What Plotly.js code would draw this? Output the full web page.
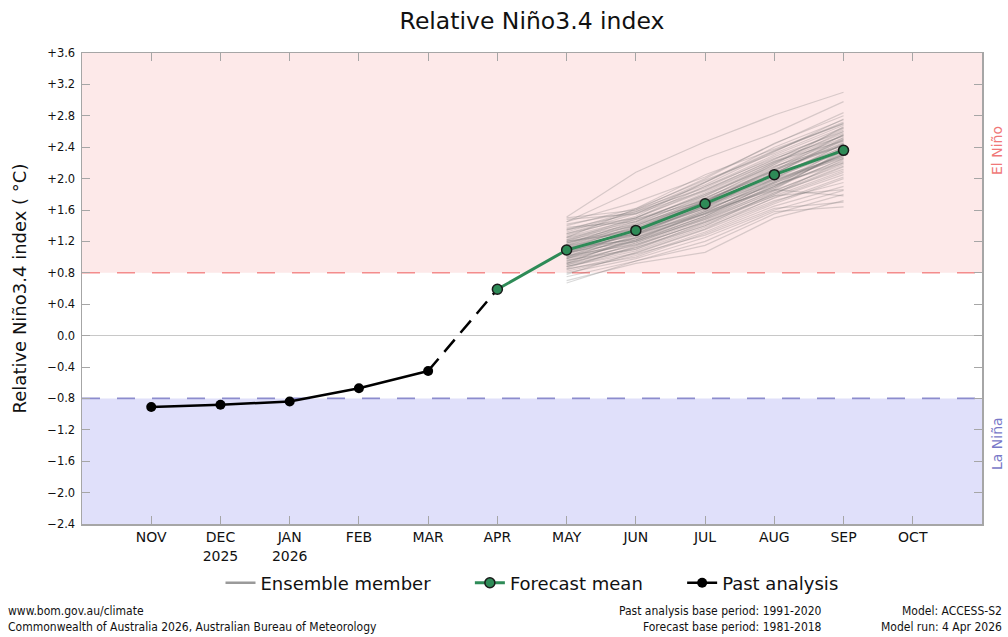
<!DOCTYPE html>
<html>
<head>
<meta charset="utf-8">
<script src="https://cdn.plot.ly/plotly-3.0.1.min.js"></script>
<style>
  html, body { margin: 0; padding: 0; background: #fff; }
  #chart { width: 1008px; height: 637px; }
</style>
</head>
<body>
<div id="chart"></div>
<script>
// ---- data ----
const months = ['NOV','DEC','JAN','FEB','MAR','APR','MAY','JUN','JUL','AUG','SEP','OCT'];
const tickLabels = ['NOV','DEC<br>2025','JAN<br>2026','FEB','MAR','APR','MAY','JUN','JUL','AUG','SEP','OCT'];

const pastMonths = ['NOV','DEC','JAN','FEB','MAR'];
const pastValues = [-0.91, -0.88, -0.84, -0.67, -0.45];

const bridgeMonths = ['MAR','APR'];
const bridgeValues = [-0.45, 0.59];

const forecastMonths = ['APR','MAY','JUN','JUL','AUG','SEP'];
const forecastMean = [0.59, 1.09, 1.34, 1.68, 2.05, 2.36];

const ensembleMonths = ['MAY','JUN','JUL','AUG','SEP'];
const ensembleMembers = [
  [1.51, 2.08, 2.47, 2.81, 3.10],
  [1.45, 1.85, 2.26, 2.58, 2.98],
  [1.50, 1.60, 2.00, 2.45, 2.80],
  [1.48, 1.55, 1.95, 2.40, 2.75],
  [1.40, 1.62, 2.05, 2.38, 2.70],
  [1.35, 1.50, 1.90, 2.30, 2.65],
  [1.30, 1.55, 1.85, 2.25, 2.62],
  [1.25, 1.45, 1.80, 2.20, 2.55],
  [1.22, 1.40, 1.75, 2.15, 2.50],
  [1.20, 1.48, 1.72, 2.10, 2.45],
  [1.18, 1.35, 1.70, 2.12, 2.42],
  [1.15, 1.38, 1.68, 2.05, 2.40],
  [1.12, 1.30, 1.65, 2.00, 2.38],
  [1.10, 1.33, 1.62, 2.08, 2.35],
  [1.08, 1.28, 1.60, 1.95, 2.32],
  [1.05, 1.25, 1.58, 1.98, 2.30],
  [1.03, 1.30, 1.55, 1.90, 2.25],
  [1.00, 1.20, 1.52, 1.92, 2.22],
  [0.98, 1.18, 1.50, 1.85, 2.18],
  [0.95, 1.15, 1.45, 1.80, 2.15],
  [0.92, 1.12, 1.42, 1.78, 2.10],
  [0.90, 1.10, 1.40, 1.75, 2.05],
  [0.88, 1.05, 1.35, 1.70, 2.02],
  [0.85, 1.00, 1.30, 1.65, 1.90],
  [0.80, 0.98, 1.25, 1.60, 1.85],
  [0.75, 0.95, 1.15, 1.55, 1.80],
  [0.70, 0.92, 1.06, 1.50, 1.72],
  [0.67, 0.95, 1.20, 1.58, 1.64],
  [1.28, 1.52, 1.95, 2.35, 2.72],
  [1.32, 1.58, 1.88, 2.28, 2.60],
  [1.15, 1.42, 1.78, 2.18, 2.52],
  [1.05, 1.35, 1.72, 2.12, 2.48],
  [0.98, 1.28, 1.65, 2.02, 2.44],
  [1.12, 1.22, 1.58, 2.00, 2.28],
  [1.20, 1.32, 1.62, 1.92, 2.20],
  [0.92, 1.25, 1.55, 1.88, 2.26],
  [1.38, 1.45, 1.82, 2.22, 2.58],
  [1.02, 1.16, 1.48, 1.82, 2.12],
  [0.88, 1.08, 1.38, 1.72, 1.95],
  [1.25, 1.62, 1.98, 2.32, 2.68],
  [1.45, 1.70, 2.02, 2.44, 2.84],
  [0.96, 1.20, 1.48, 1.86, 2.36],
  [1.10, 1.40, 1.70, 2.04, 2.40],
  [1.18, 1.44, 1.76, 2.10, 2.46],
  [0.82, 1.02, 1.32, 1.68, 2.00],
  [1.14, 1.36, 1.74, 2.06, 2.50],
  [1.06, 1.30, 1.66, 2.02, 2.34],
  [1.00, 1.26, 1.60, 1.96, 2.30],
  [1.24, 1.42, 1.70, 2.14, 2.56],
  [0.94, 1.22, 1.56, 1.94, 2.28],
  [1.16, 1.46, 1.80, 2.16, 2.42],
  [1.08, 1.34, 1.64, 1.98, 2.26],
  [1.30, 1.50, 1.86, 2.24, 2.64],
  [0.86, 1.14, 1.46, 1.84, 2.20],
  [1.02, 1.24, 1.54, 1.90, 2.32],
  [1.12, 1.38, 1.72, 2.08, 2.44],
  [0.78, 1.06, 1.36, 1.76, 2.08],
  [1.36, 1.56, 1.90, 2.26, 2.54],
  [1.20, 1.36, 1.66, 2.04, 2.38],
  [0.90, 1.18, 1.50, 1.90, 2.40],
  [1.04, 1.32, 1.68, 2.06, 2.52],
  [1.26, 1.48, 1.78, 2.20, 2.60],
  [0.96, 1.10, 1.44, 1.78, 1.86],
  [1.10, 1.28, 1.58, 1.86, 1.78],
  [0.84, 1.04, 1.28, 1.62, 1.70],
  [1.18, 1.40, 1.74, 2.18, 2.66],
  [1.06, 1.20, 1.52, 1.96, 2.36],
  [1.34, 1.60, 1.92, 2.34, 2.76],
  [0.92, 1.16, 1.44, 1.80, 2.24],
  [1.14, 1.30, 1.62, 2.00, 2.44],
  [1.00, 1.34, 1.70, 2.10, 2.56],
  [1.22, 1.50, 1.84, 2.22, 2.48],
  [0.88, 1.12, 1.40, 1.82, 2.16],
  [1.42, 1.58, 1.96, 2.36, 2.70],
  [1.08, 1.24, 1.56, 1.94, 2.30],
  [0.98, 1.22, 1.52, 1.88, 2.34]
];

const yTickVals = [-2.4,-2.0,-1.6,-1.2,-0.8,-0.4,0.0,0.4,0.8,1.2,1.6,2.0,2.4,2.8,3.2,3.6];
const yTickText = ['\u22122.4','\u22122.0','\u22121.6','\u22121.2','\u22120.8','\u22120.4','0.0','+0.4','+0.8','+1.2','+1.6','+2.0','+2.4','+2.8','+3.2','+3.6'];

const elNinoThreshold = 0.8;
const laNinaThreshold = -0.8;
const yMin = -2.4, yMax = 3.6;

const footLeft = 'www.bom.gov.au/climate<br>Commonwealth of Australia 2026, Australian Bureau of Meteorology';
const footMid = 'Past analysis base period: 1991-2020<br>Forecast base period: 1981-2018';
const footRight = 'Model: ACCESS-S2<br>Model run: 4 Apr 2026';

// ---- traces ----
const FONT = 'DejaVu Sans, Verdana, sans-serif';
const NB = '\u00a0';
const traces = [];
// legend entry for ensemble members (no drawn data)
traces.push({
  x: [null], y: [null], type: 'scatter', mode: 'lines',
  name: 'Ensemble member' + NB.repeat(6), legendgroup: 'ens', showlegend: true,
  line: { color: '#9a9a9a', width: 2.5 }, hoverinfo: 'skip'
});
ensembleMembers.forEach((vals) => {
  traces.push({
    x: ensembleMonths, y: vals, type: 'scatter', mode: 'lines',
    legendgroup: 'ens', showlegend: false,
    line: { color: 'rgba(110,110,110,0.26)', width: 1.2 },
    hoverinfo: 'skip'
  });
});
traces.push({
  x: bridgeMonths, y: bridgeValues, type: 'scatter', mode: 'lines',
  showlegend: false, line: { color: '#000', width: 2.5, dash: '16px,9px' }, hoverinfo: 'skip'
});
traces.push({
  x: forecastMonths, y: forecastMean, type: 'scatter', mode: 'lines+markers',
  name: 'Forecast mean' + NB.repeat(6),
  line: { color: 'rgb(46,139,87)', width: 3 },
  marker: { color: 'rgb(46,139,87)', size: 10, line: { color: '#1a1a1a', width: 1.5 } }
});
traces.push({
  x: pastMonths, y: pastValues, type: 'scatter', mode: 'lines+markers',
  name: 'Past analysis',
  line: { color: '#000', width: 2.5 },
  marker: { color: '#000', size: 10 }
});

// ---- layout ----
const px = v => (v - 82) / 900;
const py = v => (524 - v) / 471;
const footFont = { family: 'DejaVu Sans Condensed, Liberation Sans Narrow, DejaVu Sans', size: 12, color: '#111' };

const layout = {
  width: 1008, height: 637,
  margin: { l: 82, r: 26, t: 53, b: 113 },
  paper_bgcolor: '#fff', plot_bgcolor: '#fff',
  font: { family: FONT, color: '#111' },
  title: { text: 'Relative Niño3.4 index', font: { family: FONT, size: 23.5, color: '#111' },
           x: 0.5, xref: 'paper', xanchor: 'center', y: 1 - 21/637, yref: 'container', yanchor: 'middle' },
  xaxis: {
    type: 'category', categoryorder: 'array', categoryarray: months,
    range: [-1, 12], tickvals: months, ticktext: tickLabels,
    showgrid: false, zeroline: false, showline: true, mirror: 'ticks',
    linecolor: '#a6a6a6', linewidth: 1.5, ticks: 'inside', ticklen: 8, tickcolor: '#a6a6a6', tickwidth: 1,
    tickfont: { family: FONT, size: 14, color: '#111' }, fixedrange: true
  },
  yaxis: {
    range: [yMin, yMax], tickvals: yTickVals, ticktext: yTickText,
    showgrid: false, zeroline: true, zerolinecolor: '#c8c8c8', zerolinewidth: 1.2,
    showline: true, mirror: 'ticks', linecolor: '#a6a6a6', linewidth: 1.5,
    ticks: 'inside', ticklen: 8, tickcolor: '#a6a6a6', tickwidth: 1,
    ticklabelstandoff: 3,
    tickfont: { family: FONT, size: 11.5, color: '#111' },
    title: { text: 'Relative Niño3.4 index ( \u00b0C)', font: { family: FONT, size: 18, color: '#111' }, standoff: 16 },
    fixedrange: true
  },
  shapes: [
    { type: 'rect', xref: 'paper', yref: 'y', x0: 0, x1: 1, y0: elNinoThreshold, y1: yMax,
      fillcolor: 'rgb(253,233,233)', line: { width: 0 }, layer: 'below' },
    { type: 'rect', xref: 'paper', yref: 'y', x0: 0, x1: 1, y0: yMin, y1: laNinaThreshold,
      fillcolor: 'rgb(224,224,250)', line: { width: 0 }, layer: 'below' },
    { type: 'line', xref: 'paper', yref: 'y', x0: 0, x1: 1, y0: elNinoThreshold, y1: elNinoThreshold,
      line: { color: 'rgb(244,140,140)', width: 1.6, dash: '18px,17px' }, layer: 'below' },
    { type: 'line', xref: 'paper', yref: 'y', x0: 0, x1: 1, y0: laNinaThreshold, y1: laNinaThreshold,
      line: { color: 'rgb(140,140,205)', width: 1.6, dash: '18px,17px' }, layer: 'below' }
  ],
  legend: {
    orientation: 'h', x: 0.5, xanchor: 'center', y: py(583), yanchor: 'middle',
    font: { family: FONT, size: 18, color: '#111' }, bgcolor: 'rgba(0,0,0,0)',
    traceorder: 'normal', itemwidth: 30
  },
  showlegend: true,
  annotations: [
    { text: 'El Niño', xref: 'paper', yref: 'paper', x: px(997), y: py(151), textangle: -90,
      showarrow: false, xanchor: 'center', yanchor: 'middle', font: { family: FONT, size: 14, color: 'rgb(240,120,120)' } },
    { text: 'La Niña', xref: 'paper', yref: 'paper', x: px(997), y: py(444), textangle: -90,
      showarrow: false, xanchor: 'center', yanchor: 'middle', font: { family: FONT, size: 14, color: 'rgb(120,120,200)' } },
    { text: footLeft, xref: 'paper', yref: 'paper', x: px(7), y: py(619),
      xanchor: 'left', yanchor: 'middle', showarrow: false, align: 'left', borderpad: 0, font: footFont },
    { text: footMid, xref: 'paper', yref: 'paper', x: px(823), y: py(619),
      xanchor: 'right', yanchor: 'middle', showarrow: false, align: 'right', borderpad: 0, font: footFont },
    { text: footRight, xref: 'paper', yref: 'paper', x: px(1003), y: py(619),
      xanchor: 'right', yanchor: 'middle', showarrow: false, align: 'right', borderpad: 0, font: footFont }
  ]
};

Plotly.newPlot('chart', traces, layout, { displayModeBar: false, staticPlot: true });
</script>
</body>
</html>
